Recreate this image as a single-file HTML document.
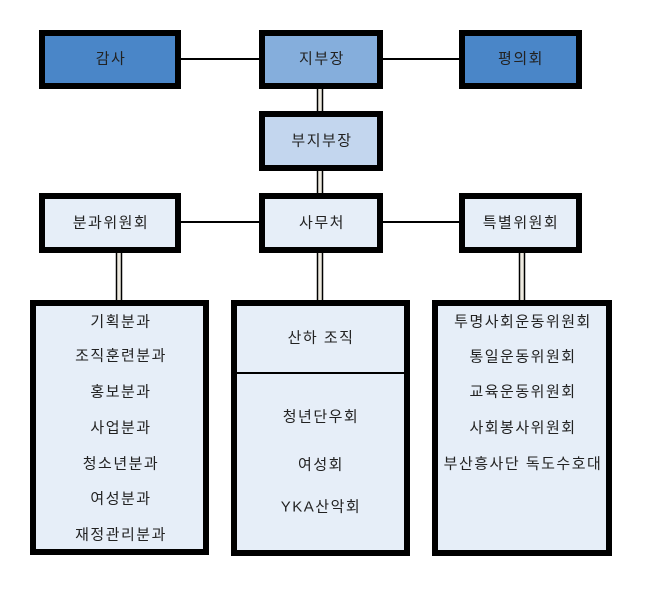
<!DOCTYPE html>
<html><head><meta charset="utf-8"><style>
html,body{margin:0;padding:0;background:#fff;}
svg text{font-family:"Liberation Sans","Noto Sans CJK KR",sans-serif;font-size:15px;letter-spacing:1.5px;fill:#222;text-anchor:middle;dominant-baseline:central;}
</style></head><body>
<svg width="649" height="584" xmlns="http://www.w3.org/2000/svg">
<g stroke="#000" stroke-width="2">
<line x1="181" y1="59" x2="259" y2="59"/>
<line x1="383" y1="59" x2="459" y2="59"/>
<line x1="181" y1="222" x2="259" y2="222"/>
<line x1="383" y1="222" x2="459" y2="222"/>
</g>
<g fill="#eeeae0" stroke="#000" stroke-width="1.5">
<rect x="317.5" y="88" width="5" height="24"/>
<rect x="317.5" y="170" width="5" height="24"/>
<rect x="317.5" y="252" width="5" height="49"/>
<rect x="116.5" y="252" width="5" height="49"/>
<rect x="519.5" y="252" width="5" height="49"/>
</g>
<g stroke="#000" stroke-width="6">
<rect x="42" y="33" width="136" height="53" fill="#4a86c8"/>
<rect x="262" y="33" width="118" height="53" fill="#85aedc"/>
<rect x="462" y="33" width="117" height="53" fill="#4a86c8"/>
<rect x="262" y="114" width="118" height="54" fill="#c3d6ee"/>
<rect x="42" y="196" width="136" height="54" fill="#e6eef8"/>
<rect x="262" y="196" width="118" height="54" fill="#e6eef8"/>
<rect x="462" y="196" width="117" height="54" fill="#e6eef8"/>
<rect x="33" y="303" width="173" height="249" fill="#e6eef8"/>
<rect x="234" y="303" width="173" height="250" fill="#e6eef8"/>
<rect x="435" y="303" width="174" height="250" fill="#e6eef8"/>
</g>
<line x1="234" y1="373" x2="407" y2="373" stroke="#000" stroke-width="2"/>
<text x="111" y="59">감사</text>
<text x="322" y="59">지부장</text>
<text x="521" y="59">평의회</text>
<text x="322" y="141">부지부장</text>
<text x="111" y="223">분과위원회</text>
<text x="322" y="223">사무처</text>
<text x="521" y="223">특별위원회</text>
<text x="121" y="322">기획분과</text>
<text x="121" y="356">조직훈련분과</text>
<text x="121" y="392">홍보분과</text>
<text x="121" y="428">사업분과</text>
<text x="121" y="464">청소년분과</text>
<text x="121" y="499">여성분과</text>
<text x="121" y="535">재정관리분과</text>
<text x="321" y="338">산하 조직</text>
<text x="321" y="417">청년단우회</text>
<text x="321" y="465">여성회</text>
<text x="321" y="507">YKA산악회</text>
<text x="523" y="322">투명사회운동위원회</text>
<text x="523" y="357">통일운동위원회</text>
<text x="523" y="392">교육운동위원회</text>
<text x="523" y="428">사회봉사위원회</text>
<text x="523" y="464">부산흥사단 독도수호대</text>
</svg>
</body></html>
